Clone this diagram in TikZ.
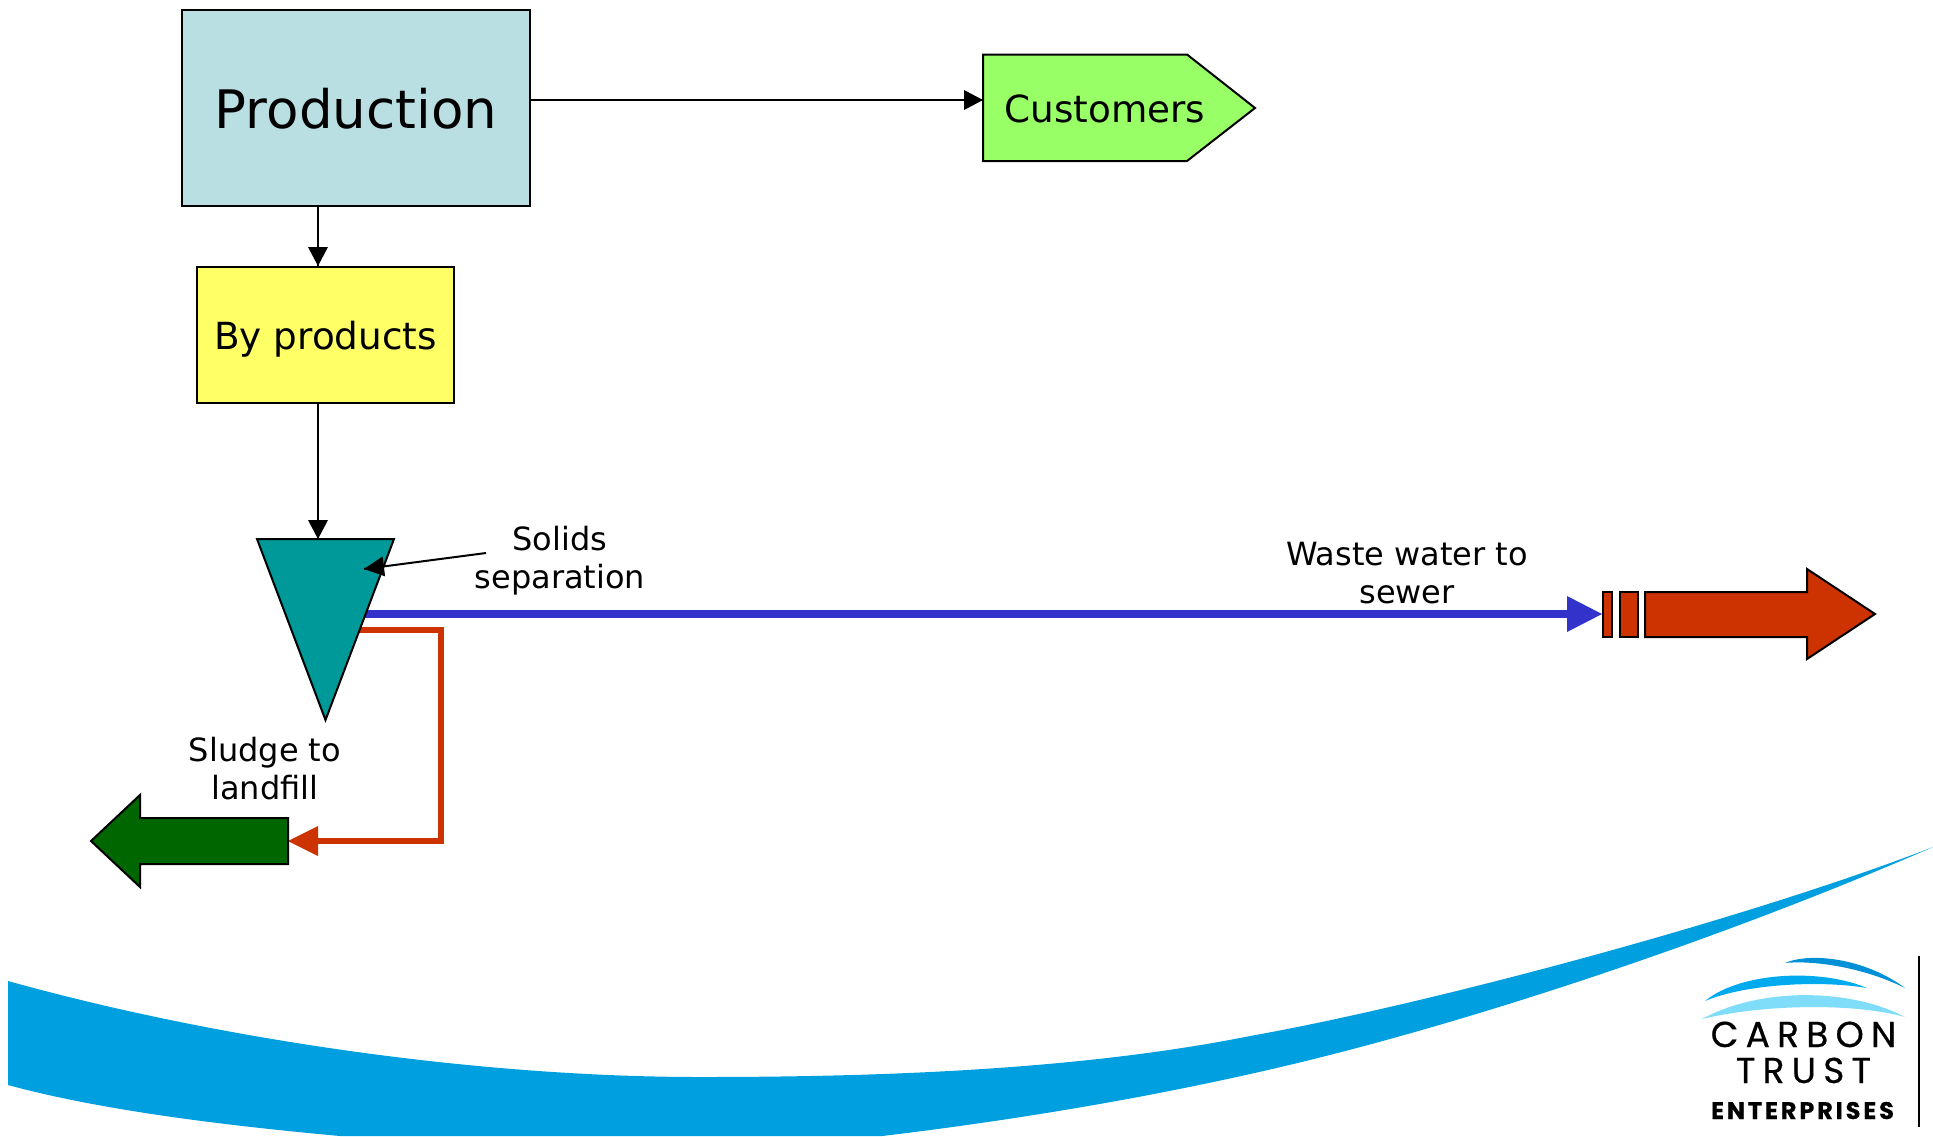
\documentclass[tikz,border=0pt]{standalone}
\usepackage{fontspec}
\setmainfont{DejaVu Sans}
\newfontfamily\logofont[FakeBold=0.5]{Poppins}
\definecolor{prodfill}{HTML}{B9DFE3}
\definecolor{byfill}{HTML}{FFFF66}
\definecolor{custfill}{HTML}{99FF66}
\definecolor{sepfill}{HTML}{009999}
\definecolor{wasteblue}{HTML}{3333CC}
\definecolor{sludgered}{HTML}{CC3300}
\definecolor{landgreen}{HTML}{006600}
\definecolor{swoosh}{HTML}{00A0E0}
\definecolor{logodark}{HTML}{0090D8}
\definecolor{logomid}{HTML}{00AAEE}
\definecolor{logolight}{HTML}{80DDFA}
\tikzset{every picture/.style={line width=1.5pt},
	boxnode/.style={draw=black,inner sep=0pt,align=center},
	labelnode/.style={inner sep=0pt,align=center,font=\fontsize{24}{28.5}\selectfont},
	logonode/.style={inner sep=0pt,anchor=base,text=black},
	tipblack/.style={fill=black,draw opacity=0,line width=0.08},
	tipblue/.style={fill=wasteblue,draw opacity=0,line width=0.08},
	tipred/.style={fill=sludgered,draw opacity=0,line width=0.08}}

\begin{document}
\begin{tikzpicture}[x=0.75pt,y=0.75pt,yscale=-1]
	\useasboundingbox (0,0) rectangle (1933,1136);
	% swoosh and logo
	\fill [swoosh] (8,981) .. controls (220,1040) and (480,1077) .. (700,1077) .. controls (880,1077) and (1080,1070) .. (1250,1036) .. controls (1430,1004) and (1750,918) .. (1933,847) .. controls (1720,940) and (1450,1030) .. (1250,1074) .. controls (1130,1101) and (1000,1122) .. (882,1136) -- (340,1136) .. controls (220,1125) and (100,1110) .. (8,1085) -- cycle;
	\fill [logodark] (1785,963) .. controls (1810,952) and (1865,958) .. (1905,988) .. controls (1865,968) and (1815,960) .. cycle;
	\fill [logomid] (1705,1001) .. controls (1740,972) and (1820,968) .. (1867,988) .. controls (1820,980) and (1745,984) .. cycle;
	\fill [logolight] (1702,1019) .. controls (1760,987) and (1850,988) .. (1905,1017) .. controls (1850,1002) and (1760,1005) .. cycle;
	\draw [line width=2pt] (1919,956) -- (1919,1127);
	\node (carbon) [logonode] at (1803.5,1047) {\logofont\addfontfeature{LetterSpace=20}\fontsize{27}{27}\selectfont CARBON};
	\node (trust) [logonode] at (1803.5,1083) {\logofont\addfontfeature{LetterSpace=20}\fontsize{27}{27}\selectfont TRUST};
	\node (enterprises) [logonode] at (1802.5,1119) {\logofont\addfontfeature{LetterSpace=12}\fontsize{18}{18}\selectfont\bfseries ENTERPRISES};
	% boxes
	\node (production) [boxnode,fill=prodfill,minimum width=261pt,minimum height=147pt] at (355.5,108) {};
	\node (productiontext) [inner sep=0pt,font=\fontsize{39.8}{39.8}\selectfont] at (356,109) {Production};
	\node (byproducts) [boxnode,fill=byfill,minimum width=192.75pt,minimum height=102pt] at (325.5,334.5) {};
	\node (byproductstext) [inner sep=0pt,font=\fontsize{28}{28}\selectfont] at (325.5,339) {By products};
	\draw [fill=custfill] (983,54.5) -- (1187,54.5) -- (1255,108) -- (1187,161) -- (983,161) -- cycle;
	\node (customers) [inner sep=0pt,font=\fontsize{28}{28}\selectfont] at (1105,109) {Customers};
	% named ends of the connectors
	\coordinate (custin) at (983,100);
	\coordinate (bytop) at (318,266);
	\coordinate (sepin) at (318,539);
	\coordinate (solidstail) at (486,553);
	\coordinate (solidstip) at (364,569);
	\coordinate (sepblue) at (363,614);
	\coordinate (sewerin) at (1602,614);
	\coordinate (sepred) at (358,630);
	\coordinate (redturn) at (441,630);
	\coordinate (landin) at (288,841);
	% flows
	\draw (production.east |- custin) -- (custin);
	\draw [shift={(custin)}, rotate = 180] [tipblack] (19,-10) -- (0,0) -- (19,10) -- cycle;
	\draw (bytop |- production.south) -- (bytop);
	\draw [shift={(bytop)}, rotate = -90] [tipblack] (19,-10) -- (0,0) -- (19,10) -- cycle;
	\draw (bytop |- byproducts.south) -- (sepin);
	\draw [shift={(sepin)}, rotate = -90] [tipblack] (19,-10) -- (0,0) -- (19,10) -- cycle;
	\draw [wasteblue,line width=6.2pt,shorten >=20] (sepblue) -- (sewerin);
	\draw [shift={(sewerin)}, rotate = 180] [tipblue] (35,-18) -- (0,0) -- (35,18) -- cycle;
	\draw [sludgered,line width=5pt,shorten >=20] (sepred) -- (redturn) |- (landin);
	\draw [shift={(landin)}, rotate = 0] [tipred] (30,-15) -- (0,0) -- (30,15) -- cycle;
	% separator and outlets
	\draw [fill=sepfill] (257,539) -- (394,539) -- (325.5,720) -- cycle;
	\draw (solidstail) -- (solidstip);
	\draw [shift={(solidstip)}, rotate = -7.5] [tipblack] (20,-10) -- (0,0) -- (20,10) -- cycle;
	\draw [fill=landgreen] (288,818) -- (140,818) -- (140,795) -- (91,841) -- (140,887) -- (140,864) -- (288,864) -- cycle;
	\draw [fill=sludgered] (1603,592) rectangle (1612,637);
	\draw [fill=sludgered] (1620,592) rectangle (1637.5,637);
	\draw [fill=sludgered] (1645,592) -- (1807,592) -- (1807,569) -- (1875,614) -- (1807,659) -- (1807,637) -- (1645,637) -- cycle;
	% labels
	\node (solids) [labelnode] at (560,561) {Solids\\separation};
	\node (waste) [labelnode] at (1407,573) {Waste water to\\sewer};
	\node (sludge) [labelnode] at (265,769) {Sludge to\\landfill};
\end{tikzpicture}
\end{document}
